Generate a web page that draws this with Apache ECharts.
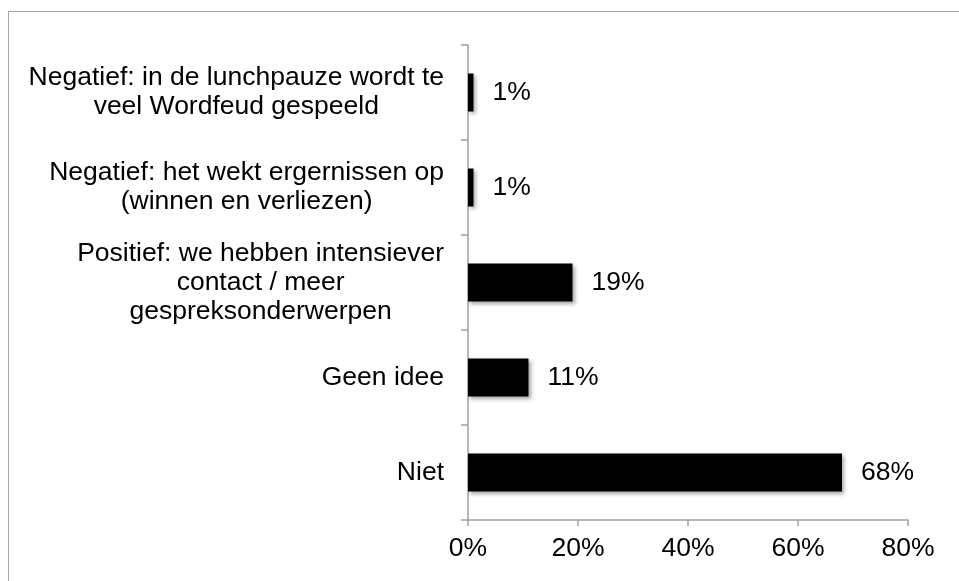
<!DOCTYPE html>
<html>
<head>
<meta charset="utf-8">
<script src="https://cdn.jsdelivr.net/npm/echarts@6/dist/echarts.min.js"></script>
<style>
html,body{margin:0;padding:0;width:959px;height:581px;overflow:hidden;background:#fff;}
#frame{position:absolute;left:8px;top:11px;width:970px;height:600px;border:1px solid #a6a6a6;box-sizing:border-box;}
#chart{position:absolute;left:0;top:0;width:959px;height:581px;}
</style>
</head>
<body>
<div id="frame"></div>
<div id="chart"></div>
<script>
// Categories listed bottom to top
var categories = [
  'Niet',
  'Geen idee',
  'Positief: we hebben intensiever\ncontact / meer\ngespreksonderwerpen',
  'Negatief: het wekt ergernissen op\n(winnen en verliezen)',
  'Negatief: in de lunchpauze wordt te\nveel Wordfeud gespeeld'
];
var values = [68, 11, 19, 1, 1];
var xTicks = [0, 20, 40, 60, 80];

var FONT = '"Liberation Sans", Arial, Helvetica, sans-serif';
var FS = 26.5;
var chart = echarts.init(document.getElementById('chart'), null, {renderer: 'canvas'});
chart.setOption({
  animation: false,
  backgroundColor: 'transparent',
  grid: {left: 468, right: 51, top: 45, bottom: 61, containLabel: false},
  xAxis: {
    type: 'value',
    min: xTicks[0],
    max: xTicks[xTicks.length - 1],
    interval: xTicks[1] - xTicks[0],
    axisLine: {show: true, lineStyle: {color: '#a0a0a0', width: 1.5}},
    axisTick: {show: true, length: 6, lineStyle: {color: '#a0a0a0', width: 1.5}},
    splitLine: {show: false},
    axisLabel: {
      margin: 15,
      color: '#000',
      fontFamily: FONT,
      fontSize: FS,
      formatter: function (v) { return v + '%'; }
    }
  },
  yAxis: {
    type: 'category',
    data: categories,
    axisLine: {show: true, lineStyle: {color: '#a0a0a0', width: 1.5}},
    axisTick: {show: true, length: 7, lineStyle: {color: '#a0a0a0', width: 1.5}},
    axisLabel: {
      margin: 24,
      color: '#000',
      fontFamily: FONT,
      fontSize: FS,
      lineHeight: 29,
      formatter: function (v) {
        return v.split('\n').map(function (l) { return '{c|' + l + '}'; }).join('\n');
      },
      rich: {
        c: {align: 'center', fontFamily: FONT, fontSize: FS, lineHeight: 29, color: '#000'}
      }
    }
  },
  series: [{
    type: 'bar',
    data: values,
    barCategoryGap: '60%',
    itemStyle: {
      color: '#000',
      shadowColor: 'rgba(0,0,0,0.35)',
      shadowBlur: 4,
      shadowOffsetX: 2,
      shadowOffsetY: 2
    },
    label: {
      show: true,
      position: 'right',
      distance: 19,
      color: '#000',
      fontFamily: FONT,
      fontSize: FS,
      formatter: '{c}%'
    }
  }]
});
</script>
</body>
</html>
